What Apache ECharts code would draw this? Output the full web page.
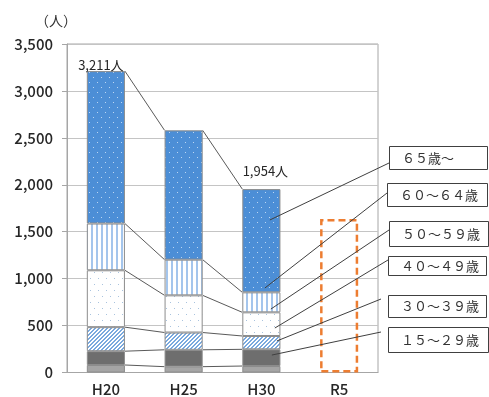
<!DOCTYPE html>
<html>
<head>
<meta charset="utf-8">
<script src="https://cdn.jsdelivr.net/npm/echarts@6/dist/echarts.min.js"></script>
<style>
html,body{margin:0;padding:0;background:#fff;}
#c{width:489px;height:397px;}
</style>
</head>
<body>
<div id="c"></div>
<script>
// ---- data ----
const categories = ['H20', 'H25', 'H30', 'R5'];
const groupNames = ['１５～２９歳', '３０～３９歳', '４０～４９歳', '５０～５９歳', '６０～６４歳', '６５歳～'];
const age15_29 = [80, 62, 69, null];
const age30_39 = [147, 180, 178, null];
const age40_49 = [256, 184, 142, null];
const age50_59 = [606, 396, 252, null];
const age60_64 = [498, 380, 213, null];
const age65plus = [1624, 1378, 1100, null];
const r5Placeholder = [null, null, null, 1635];
const yMin = 0, yMax = 3500, yStep = 500;
const unitLabel = '（人）';
const labeledTotals = [0, 2]; // category indexes with total labels

const seriesValues = [age15_29, age30_39, age40_49, age50_59, age60_64, age65plus];

// cumulative tops per level
const cumulative = seriesValues.map((_, k) =>
  categories.map((c, i) => {
    let s = 0;
    for (let j = 0; j <= k; j++) s += (seriesValues[j][i] || 0);
    return s;
  })
);
const totals = cumulative[cumulative.length - 1];

// ---- patterns ----
function tile(w, h, bg, draw) {
  const cv = document.createElement('canvas');
  cv.width = w; cv.height = h;
  const g = cv.getContext('2d');
  g.fillStyle = bg; g.fillRect(0, 0, w, h);
  draw(g);
  return { image: cv, repeat: 'repeat' };
}
const pat65 = tile(8, 10, '#4c8ed6', g => {
  g.fillStyle = '#bcd6f2';
  g.fillRect(1, 2, 1, 1); g.fillRect(5, 7, 1, 1);
});
const pat60 = tile(5, 4, '#ffffff', g => {
  g.fillStyle = '#a4c5ec';
  g.fillRect(1, 0, 2, 4);
});
const pat50 = tile(8, 12, '#ffffff', g => {
  g.fillStyle = '#a9c3de';
  g.fillRect(2, 2, 1, 1); g.fillRect(6, 8, 1, 1);
});
const pat40 = tile(4, 4, '#ffffff', g => {
  g.fillStyle = '#7aa9de';
  for (let x = 0; x < 4; x++) for (let y = 0; y < 4; y++) {
    if ((x + y) % 4 === 2 || (x + y) % 4 === 3) g.fillRect(x, y, 1, 1);
  }
});
const fills = ['#a5a5a5', '#6e6e6e', pat40, pat50, pat60, pat65];

const BAR_W = 0.49;

const chart = echarts.init(document.getElementById('c'), null, { renderer: 'canvas' });

const barSeries = seriesValues.map((vals, k) => ({
  name: groupNames[k],
  type: 'bar',
  stack: 'total',
  barWidth: (BAR_W * 100) + '%',
  itemStyle: { color: fills[k], borderColor: '#8c8c8c', borderWidth: 1 },
  data: vals.map((v, i) => {
    if (k === seriesValues.length - 1 && labeledTotals.indexOf(i) >= 0) {
      return {
        value: v,
        label: {
          show: true,
          position: 'top',
          distance: i === 0 ? 0 : 12,
          offset: i === 0 ? [-5, 0] : [4, 0],
          formatter: () => totals[i].toLocaleString('en-US') + '人',
          fontFamily: 'Noto Sans CJK JP',
          fontSize: 13,
          color: '#262626'
        }
      };
    }
    return v;
  })
}));

const option = {
  animation: false,
  backgroundColor: '#ffffff',
  grid: { left: 67, right: 111, top: 44, bottom: 24.5, show: true, borderColor: '#a6a6a6', borderWidth: 1 },
  xAxis: {
    type: 'category',
    data: categories,
    axisLine: { lineStyle: { color: '#a6a6a6', width: 1 } },
    axisTick: { show: false },
    axisLabel: { fontFamily: 'Noto Sans CJK JP', fontSize: 15, fontWeight: 500, color: '#262626', margin: 9 }
  },
  yAxis: {
    type: 'value',
    min: yMin, max: yMax, interval: yStep,
    axisLine: { show: true, lineStyle: { color: '#a6a6a6', width: 1 } },
    axisTick: { show: true, length: 5, lineStyle: { color: '#a6a6a6' } },
    splitLine: { lineStyle: { color: '#c4c4c4', width: 1 } },
    axisLabel: {
      fontFamily: 'Noto Sans CJK JP', fontSize: 15, fontWeight: 500, color: '#262626', margin: 14,
      formatter: v => v.toLocaleString('en-US')
    }
  },
  series: barSeries.concat([
    {
      name: 'R5',
      type: 'bar',
      stack: 'total',
      barWidth: (BAR_W * 100) + '%',
      itemStyle: { color: 'rgba(0,0,0,0)', borderColor: '#ED7D31', borderWidth: 2.5, borderType: [7, 4] },
      data: r5Placeholder
    },
    {
      type: 'custom',
      z: 3,
      silent: true,
      encode: { x: 0, y: 1 },
      data: [[0, 0], [1, 0]],
      renderItem: function (params, api) {
        const i = api.value(0);
        const bw = api.size([1, 0])[0] * BAR_W;
        const children = cumulative.map(level => {
          const p1 = api.coord([i, level[i]]);
          const p2 = api.coord([i + 1, level[i + 1]]);
          return {
            type: 'line',
            shape: { x1: p1[0] + bw / 2, y1: p1[1], x2: p2[0] - bw / 2, y2: p2[1] },
            style: { stroke: '#5a5a5a', lineWidth: 1 }
          };
        });
        return { type: 'group', children: children };
      }
    }
  ])
};
chart.setOption(option);

// ---- callouts (annotation boxes with leader lines into the H30 bar) ----
const calloutLayout = [
  // box x, y, w, h, leader start x, y, anchor value in H30, x offset from H30 center
  [389, 146, 98, 23, 389, 163, 1625, 8.5],
  [387, 183, 100, 23, 387, 193, 900, 3.5],
  [389, 221, 99, 25, 389, 230, 676, 9.5],
  [388, 256, 98, 19, 388, 260, 474, 13.5],
  [388, 295, 98, 22, 381, 299, 336, 15.5],
  [388, 327, 100, 25, 381, 332, 186, 10.5]
];
const calloutNames = groupNames.slice().reverse();
const graphics = [];
calloutLayout.forEach((L, idx) => {
  const end = chart.convertToPixel({ xAxisIndex: 0, yAxisIndex: 0 }, [categories[2], L[6]]);
  graphics.push({
    type: 'line', z: 10,
    shape: { x1: L[4], y1: L[5], x2: end[0] + L[7], y2: end[1] },
    style: { stroke: '#404040', lineWidth: 1 }
  });
  graphics.push({
    type: 'rect', z: 10,
    shape: { x: L[0] + 0.5, y: L[1] + 0.5, width: L[2], height: L[3] },
    style: { fill: '#fff', stroke: '#404040', lineWidth: 1 }
  });
  graphics.push({
    type: 'text', z: 11,
    x: L[0] + 13, y: L[1] + L[3] / 2 + 0.5,
    style: {
      text: calloutNames[idx], fill: '#333', fontSize: 13,
      fontFamily: 'Noto Sans CJK JP', textVerticalAlign: 'middle', textAlign: 'left'
    }
  });
});
graphics.push({
  type: 'text', z: 11, x: 56, y: 21,
  style: { text: unitLabel, fill: '#333', fontSize: 14, fontFamily: 'Noto Sans CJK JP', textAlign: 'center', textVerticalAlign: 'middle' }
});
chart.setOption({ graphic: graphics });
</script>
</body>
</html>
